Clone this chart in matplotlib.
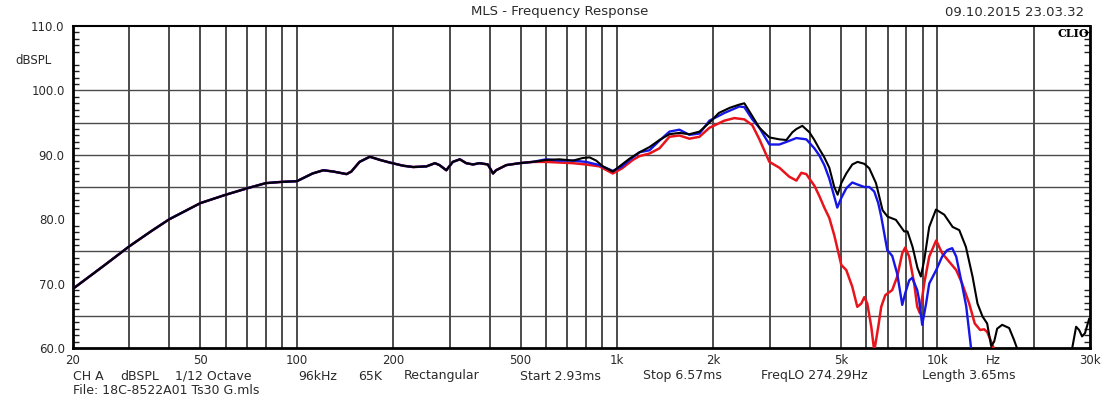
import numpy as np
import matplotlib
matplotlib.use("Agg")
import matplotlib.pyplot as plt
from matplotlib.ticker import FixedLocator

# Low band: the three traces sit on top of each other up to ~550 Hz
lf_freq = [20, 25, 30, 35, 40, 50, 60, 70, 80, 90, 100, 112, 121, 130, 143, 148,
           157, 169, 182, 195, 215, 231, 254, 270, 279, 293, 307, 323, 338, 355,
           372, 395, 410, 419, 451, 496, 546]
lf_spl = [69.2, 72.8, 75.8, 78.1, 80.0, 82.5, 83.8, 84.8, 85.6, 85.8, 85.9, 87.1,
          87.6, 87.4, 87.0, 87.4, 88.9, 89.7, 89.2, 88.8, 88.3, 88.1, 88.2, 88.7,
          88.4, 87.6, 88.9, 89.3, 88.7, 88.5, 88.7, 88.5, 87.1, 87.6, 88.4, 88.7,
          88.9]

black_freq = [601, 661, 728, 782, 821, 861, 903, 970, 1018, 1094,
              1176, 1263, 1357, 1458, 1566, 1683, 1809, 1944, 2080, 2250,
              2410, 2498, 2646, 2784, 2991, 3213, 3380, 3529, 3632, 3790,
              3988, 4134, 4284, 4440, 4602, 4770, 4886, 5016, 5200, 5430,
              5640, 5920, 6136, 6438, 6750, 6998, 7430, 7885, 8075, 8375,
              8680, 8890, 9110, 9440, 9910, 10520, 11170, 11720, 12290, 12890,
              13360, 13850, 14320, 14738, 15062, 15388, 15952, 16776, 17390, 17766,
              19000, 25000, 26378, 27150, 27736, 28340, 28940, 29800]
black_spl = [89.2, 89.3, 89.1, 89.5, 89.6, 89.1, 88.2, 87.4, 88.2, 89.4,
             90.4, 91.2, 92.3, 93.2, 93.4, 93.2, 93.6, 95.0, 96.5, 97.3,
             97.8, 98.0, 96.0, 94.2, 92.7, 92.4, 92.3, 93.5, 94.0, 94.5,
             93.5, 92.3, 90.9, 89.6, 88.0, 85.0, 83.8, 85.6, 87.1, 88.5,
             88.9, 88.6, 87.9, 85.6, 81.4, 80.4, 79.9, 78.1, 78.1, 75.7,
             72.4, 71.1, 73.7, 78.8, 81.5, 80.7, 78.8, 78.3, 75.7, 71.1,
             66.9, 64.9, 63.8, 60.3, 61.0, 63.0, 63.6, 63.1, 61.2, 59.9,
             56.0, 56.0, 59.9, 63.3, 62.8, 61.8, 62.3, 64.5]

blue_freq = [601, 661, 728, 800, 882, 970, 1037, 1094, 1176, 1263,
             1357, 1458, 1566, 1683, 1809, 1944, 2164, 2410, 2498, 2646,
             2784, 2991, 3213, 3380, 3632, 3902, 4134, 4284, 4440, 4602,
             4770, 4874, 5016, 5200, 5430, 5628, 5920, 6136, 6358, 6544,
             6686, 6982, 7236, 7502, 7776, 7944, 8174, 8354, 8660, 8784,
             8976, 9238, 9440, 9926, 10362, 10742, 11136, 11462, 11880, 12316,
             12584, 12766, 13000]
blue_spl = [89.3, 89.1, 89.1, 88.9, 88.4, 87.5, 88.2, 89.2, 90.4, 90.7,
            92.2, 93.6, 93.9, 93.1, 93.3, 95.3, 96.5, 97.5, 97.4, 95.5,
            94.2, 91.6, 91.6, 92.0, 92.6, 92.4, 91.0, 89.9, 88.4, 86.3,
            83.5, 81.8, 83.3, 84.8, 85.7, 85.4, 85.0, 85.0, 84.3, 82.5,
            80.4, 75.2, 74.3, 71.5, 66.7, 68.5, 70.5, 70.9, 69.0, 67.4,
            63.6, 67.0, 70.0, 72.1, 74.2, 75.2, 75.5, 74.2, 70.5, 66.5,
            62.5, 59.8, 57.0]

red_freq = [601, 661, 728, 800, 882, 970, 1037, 1120, 1176, 1263,
            1357, 1458, 1566, 1683, 1809, 1944, 2164, 2326, 2498, 2646,
            2784, 2991, 3213, 3450, 3632, 3764, 3902, 3988, 4134, 4284,
            4440, 4602, 4770, 5016, 5200, 5430, 5628, 5792, 5920, 6048,
            6224, 6358, 6544, 6686, 6882, 7236, 7502, 7776, 7944, 8174,
            8474, 8660, 8830, 9106, 9440, 9926, 10362, 10898, 11462, 11966,
            12584, 13100, 13618, 14016, 14320, 14738, 15062, 15500]
red_spl = [88.9, 88.8, 88.7, 88.5, 88.2, 87.1, 87.9, 89.2, 89.8, 90.2,
           91.0, 92.8, 93.0, 92.5, 92.8, 94.2, 95.3, 95.7, 95.5, 94.6,
           92.4, 88.9, 88.0, 86.6, 86.0, 87.2, 87.0, 86.3, 85.2, 83.6,
           81.8, 80.2, 77.5, 72.9, 72.1, 69.5, 66.4, 66.9, 67.9, 66.9,
           63.3, 59.5, 63.3, 66.4, 68.2, 69.0, 71.1, 74.7, 75.6, 74.2,
           70.0, 66.4, 65.4, 70.0, 74.2, 76.7, 74.7, 73.4, 72.1, 70.0,
           66.9, 63.8, 62.8, 62.9, 62.5, 61.0, 59.8, 57.0]

x_ticks = [20, 50, 100, 200, 500, 1000, 2000, 5000, 10000, 15000, 30000]
x_labels = ["20", "50", "100", "200", "500", "1k", "2k", "5k", "10k", "Hz", "30k"]
y_ticks = [60, 70, 80, 90, 100, 110]
v_grid = [30, 40, 50, 60, 70, 80, 90, 100, 200, 300, 400, 500, 600, 700, 800, 900,
          1000, 2000, 3000, 4000, 5000, 6000, 7000, 8000, 9000, 10000, 20000]
h_grid = [65, 75, 85, 90, 95, 100]

info_items = ["CH A", "dBSPL", "1/12 Octave", "96kHz", "65K", "Rectangular",
              "Start 2.93ms", "Stop 6.57ms", "FreqLO 274.29Hz", "Length 3.65ms"]
info_x = [73, 120, 175, 298, 358, 404, 520, 643, 761, 922]

W, H = 1120, 396
TXT = "#2a2a2a"
plt.rcParams['font.family'] = ['DejaVu Sans']

fig = plt.figure(figsize=(W / 100, H / 100), dpi=100)
fig.patch.set_facecolor("white")
ax = fig.add_axes([73 / W, 1 - 348 / H, (1090 - 73) / W, (348 - 26) / H])
ax.set_xscale("log")
ax.set_xlim(20, 30000)
ax.set_ylim(60, 110)

for f in v_grid:
    ax.axvline(f, color="#1a1a1a", lw=1.1, zorder=1)
for v in h_grid:
    ax.axhline(v, color="#4a4a4a", lw=1.0, zorder=1)

def trace(freq, spl):
    return np.concatenate([lf_freq, freq]), np.concatenate([lf_spl, spl])

fr, sr = trace(red_freq, red_spl)
fb, sb = trace(blue_freq, blue_spl)
fk, sk = trace(black_freq, black_spl)
ax.plot(fr, sr, color="#e8141c", lw=1.8, zorder=3)
ax.plot(fb, sb, color="#1616e6", lw=1.7, zorder=4)
ax.plot(fk, sk, color="black", lw=1.5, zorder=5)

ax.xaxis.set_major_locator(FixedLocator(x_ticks))
ax.set_xticklabels(x_labels)
ax.xaxis.set_minor_locator(FixedLocator([]))
ax.tick_params(axis="x", which="both", length=0, pad=4, labelsize=8.5, labelcolor=TXT)

ax.set_yticks(y_ticks)
ax.set_yticklabels([f"{v:.1f}" for v in y_ticks])
ax.yaxis.set_minor_locator(FixedLocator([v for v in range(61, 110) if v % 5]))
ax.tick_params(axis="y", which="major", length=0, pad=6, labelsize=8.5, labelcolor=TXT)
ax.tick_params(axis="y", which="minor", length=4, width=1, direction="in",
               left=True, right=True, color="#222222")

for side in ["left", "bottom", "right"]:
    ax.spines[side].set_linewidth(2.0)
ax.spines["top"].set_linewidth(1.5)

fig.text(33 / W, 1 - 60 / H, "dBSPL", ha="center", va="center", fontsize=8.5, color=TXT)
fig.text(560 / W, 1 - 12 / H, "MLS - Frequency Response", ha="center", va="center",
         fontsize=9.5, color=TXT)
fig.text(1084 / W, 1 - 12 / H, "09.10.2015 23.03.32", ha="right", va="center",
         fontsize=9.5, color=TXT)
ax.text(0.999, 0.994, "CLIO", transform=ax.transAxes, ha="right", va="top",
        fontsize=8, fontweight="bold", family="DejaVu Serif", color="black")

for label, x in zip(info_items, info_x):
    fig.text(x / W, 1 - 376 / H, label, ha="left", va="center", fontsize=9, color=TXT)
fig.text(73 / W, 1 - 391 / H, "File: 18C-8522A01 Ts30 G.mls", ha="left", va="center",
         fontsize=9, color=TXT)

fig.savefig("out.png", dpi=100)
